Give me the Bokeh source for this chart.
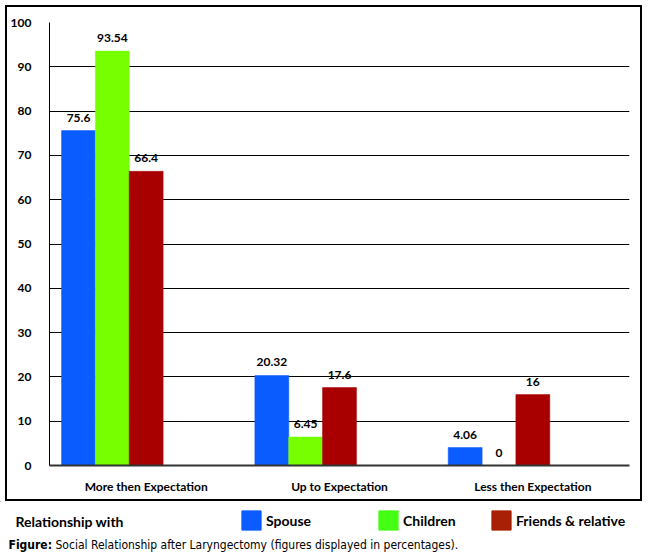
from bokeh.plotting import figure
from bokeh.models import (FactorRange, Range1d, FixedTicker, ColumnDataSource,
                          Legend, LegendItem, Label)
from bokeh.transform import dodge
from bokeh.core.properties import value
from bokeh.embed import file_html
from bokeh.resources import INLINE

categories = ["More then Expectation", "Up to Expectation", "Less then Expectation"]
spouse = [75.6, 20.32, 4.06]
children = [93.54, 6.45, 0]
friends = [66.4, 17.6, 16]
series_names = ["Spouse", "Children", "Friends & relative"]
y_ticks = [0, 10, 20, 30, 40, 50, 60, 70, 80, 90, 100]
legend_title = "Relationship with"
caption_bold = "Figure:"
caption_text = "Social Relationship after Laryngectomy (figures displayed in percentages)."

colors = ["#0a5cff", "#77ff00", "#a80000"]
legend_colors = ["#0a5cff", "#44ff14", "#a82005"]
offsets = [-0.35, -0.175, 0.0]
bar_w = 0.1755
FONT = "Lato"
CAP_FONT = "DejaVu Sans Condensed"

src = ColumnDataSource(dict(
    cat=categories,
    spouse=spouse, children=children, friends=friends,
    spouse_lbl=[f"{v:g}" for v in spouse],
    children_lbl=[f"{v:g}" for v in children],
    friends_lbl=[f"{v:g}" for v in friends],
))

# ---- main chart (boxed) ----
p = figure(x_range=FactorRange(*categories, range_padding=0),
           y_range=Range1d(0, 100),
           width=637, height=496,
           output_backend="svg", toolbar_location=None,
           min_border_left=41, min_border_right=15,
           min_border_top=15, min_border_bottom=38,
           margin=(5, 0, 0, 5),
           styles={"border": "2px solid black"})
p.outline_line_color = None
p.background_fill_color = "white"
p.border_fill_color = "white"

for key, col, off in zip(["spouse", "children", "friends"], colors, offsets):
    p.vbar(x=dodge("cat", off, range=p.x_range), top=key, width=bar_w,
           source=src, fill_color=col, line_color=col, line_width=0.5)
    p.text(x=dodge("cat", off, range=p.x_range), y=key, text=key + "_lbl",
           source=src, text_align="center", text_baseline="bottom",
           y_offset=-9, text_font=value(FONT), text_font_style="bold",
           text_font_size="12px", text_color="black")

p.yaxis.ticker = FixedTicker(ticks=y_ticks)
p.ygrid.ticker = FixedTicker(ticks=y_ticks)
p.xgrid.grid_line_color = None
p.ygrid.grid_line_color = "black"
p.ygrid.grid_line_width = 1
p.yaxis.major_tick_line_color = None
p.yaxis.minor_tick_line_color = None
p.yaxis.axis_line_color = "black"
p.yaxis.axis_line_width = 1
p.yaxis.major_label_standoff = 12
p.yaxis.major_label_text_font = FONT
p.yaxis.major_label_text_font_style = "bold"
p.yaxis.major_label_text_font_size = "12px"
p.yaxis.major_label_text_color = "black"

p.xaxis.major_tick_line_color = None
p.xaxis.minor_tick_line_color = None
p.xaxis.axis_line_color = "#333333"
p.xaxis.axis_line_width = 2
p.xaxis.major_label_standoff = 7
p.xaxis.major_label_text_font = FONT
p.xaxis.major_label_text_font_style = "bold"
p.xaxis.major_label_text_font_size = "12px"
p.xaxis.major_label_text_color = "black"

# ---- legend + caption strip ----
q = figure(x_range=Range1d(0, 650), y_range=Range1d(56, 0),
           width=650, height=56, output_backend="svg", toolbar_location=None,
           x_axis_type=None, y_axis_type=None,
           min_border_left=0, min_border_right=0,
           min_border_top=0, min_border_bottom=0)
q.outline_line_color = None
q.xgrid.grid_line_color = None
q.ygrid.grid_line_color = None

leg_x = [239, 376, 489]
for name, col, lx in zip(series_names, legend_colors, leg_x):
    # legend swatch renderer: a zero-height bar placed outside the view
    dummy = q.vbar(x=[-100], top=[0], width=1, fill_color=col, line_color=col)
    leg = Legend(items=[LegendItem(label=name, renderers=[dummy])],
                 location=(lx, 25), orientation="horizontal",
                 glyph_width=24, glyph_height=24, label_standoff=3,
                 padding=0, margin=0, border_line_color=None,
                 background_fill_alpha=0,
                 label_text_font=FONT, label_text_font_style="bold",
                 label_text_font_size="14px", label_text_color="black",
                 label_text_baseline="middle")
    q.add_layout(leg)

q.add_layout(Label(x=15, y=20, text=legend_title, text_font=FONT,
                   text_font_style="bold", text_font_size="14px",
                   text_baseline="middle", text_color="black"))
q.add_layout(Label(x=8, y=43, text=caption_bold, text_font=CAP_FONT,
                   text_font_style="bold", text_font_size="12px",
                   text_baseline="middle", text_color="black"))
q.add_layout(Label(x=55, y=43, text=caption_text, text_font=CAP_FONT,
                   text_font_size="12px", text_baseline="middle",
                   text_color="black"))

open("out.html", "w").write(file_html([p, q], INLINE))
